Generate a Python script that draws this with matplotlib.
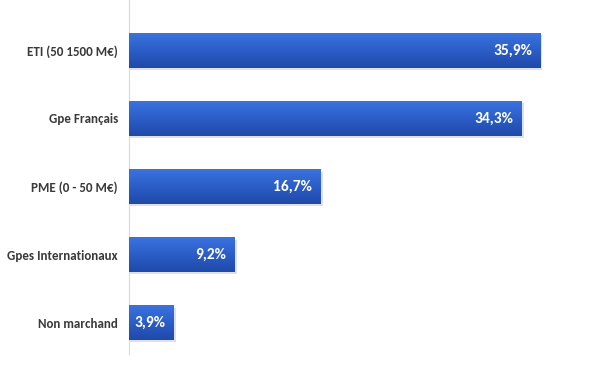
import matplotlib
matplotlib.use("Agg")
import matplotlib.pyplot as plt
import numpy as np
from matplotlib.colors import LinearSegmentedColormap

categories = ["ETI (50 1500 M€)", "Gpe Français", "PME (0 - 50 M€)", "Gpes Internationaux", "Non marchand"]
values = [35.9, 34.3, 16.7, 9.2, 3.9]
value_labels = ["35,9%", "34,3%", "16,7%", "9,2%", "3,9%"]

plt.rcParams['font.family'] = ['Carlito', 'DejaVu Sans']

fig = plt.figure(figsize=(6.04, 3.73), dpi=100)
W, H = 604, 373
ax_left, ax_right = 129, 598.5
ax_top, ax_bottom = 0, 354
ax = fig.add_axes([ax_left / W, 1 - ax_bottom / H, (ax_right - ax_left) / W, (ax_bottom - ax_top) / H])

y = np.arange(len(categories))

cmap = LinearSegmentedColormap.from_list("g", ["#3b73de", "#2b5dc8", "#1f4aa8"])
grad = np.linspace(0, 1, 64).reshape(-1, 1)

bars = ax.barh(y, values, height=0.51, color="#2a5cc4", zorder=3)
for b in bars:
    x0, y0 = b.get_x(), b.get_y()
    w, h = b.get_width(), b.get_height()
    ax.barh(y0 + h / 2 + 0.035, w + 0.15, left=x0 + 0.05, height=h, color="#000000", alpha=0.12, zorder=2)
    im = ax.imshow(grad, extent=(x0, x0 + w, y0 + h, y0), aspect="auto", cmap=cmap, zorder=4,
                   origin="upper")
    im.set_clip_path(b)
ax.set_xlim(0, 41)
ax.set_ylim(len(categories) - 1 + 0.46, -0.74)

for yi, v, lab in zip(y, values, value_labels):
    ax.text(v - 0.7, yi, lab, ha="right", va="center", color="white", fontsize=11.2,
            fontweight="bold", zorder=5)

ax.set_yticks(y)
ax.set_yticklabels(categories, fontsize=9.4, fontweight="bold", color="#3a3a3a")
ax.tick_params(axis="y", length=0, pad=8)
ax.set_xticks([])
for s in ["top", "right", "bottom"]:
    ax.spines[s].set_visible(False)
ax.spines["left"].set_color("#d9d9d9")
ax.spines["left"].set_linewidth(0.8)

fig.savefig("out.png", dpi=100)
